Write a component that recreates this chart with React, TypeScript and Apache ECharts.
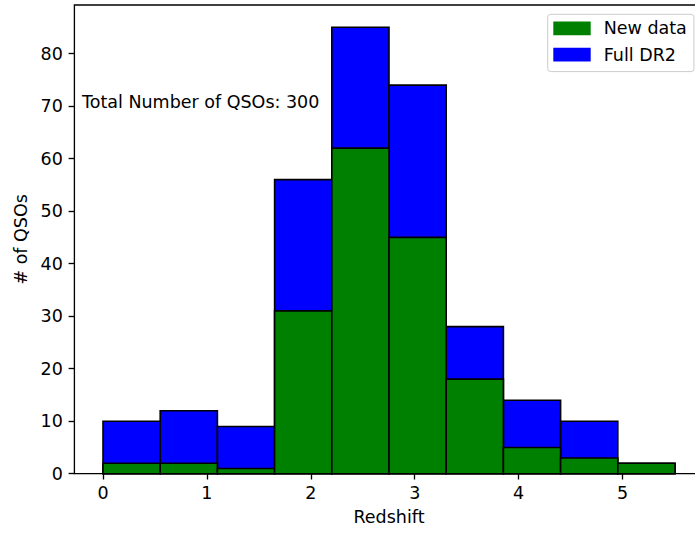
import React, { useEffect, useRef } from "react";
import * as echarts from "echarts";

const binEdges = [0, 0.5505, 1.101, 1.6515, 2.202, 2.7525, 3.303, 3.8535, 4.404, 4.9545, 5.505];
const fullDR2 = [10, 12, 9, 56, 85, 74, 28, 14, 10, 2];
const newData = [2, 2, 1, 31, 62, 45, 18, 5, 3, 2];
const xTicks = [0, 1, 2, 3, 4, 5];
const yTicks = [0, 10, 20, 30, 40, 50, 60, 70, 80];

const FONT = "DejaVu Sans";
const FS = 17.5;

function toBins(counts: number[]) {
  return counts.map((c, i) => [binEdges[i], binEdges[i + 1], c]);
}

const renderBar = (params: any, api: any) => {
  const x0 = api.value(0);
  const x1 = api.value(1);
  const y = api.value(2);
  const p0 = api.coord([x0, y]);
  const p1 = api.coord([x1, 0]);
  return {
    type: "rect",
    shape: { x: p0[0], y: p0[1], width: p1[0] - p0[0], height: p1[1] - p0[1] },
    style: { fill: api.visual("color"), stroke: "#000", lineWidth: 1.6 },
  };
};

export default function App() {
  const ref = useRef<HTMLDivElement>(null);
  useEffect(() => {
    if (!ref.current) return;
    const chart = echarts.init(ref.current, undefined, { renderer: "svg" });
    const total = fullDR2.reduce((a, b) => a + b, 0);
    chart.setOption({
      animation: false,
      textStyle: { fontFamily: FONT },
      grid: {
        left: 74.4,
        top: 5,
        width: 629.2,
        height: 468.7,
        show: true,
        borderColor: "#000",
        borderWidth: 1.33,
        backgroundColor: "transparent",
      },
      legend: {
        orient: "vertical",
        left: 547.7,
        top: 14.3,
        padding: [5.1, 7.1, 7.9, 5.6],
        itemWidth: 37.4,
        itemHeight: 13.7,
        itemGap: 8.3,
        backgroundColor: "rgba(255,255,255,0.8)",
        borderColor: "#cccccc",
        borderWidth: 1,
        borderRadius: 3,
        itemStyle: { borderWidth: 0 },
        textStyle: { fontFamily: FONT, fontSize: FS, color: "#000", padding: [0, 0, 0, 8] },
        data: [
          { name: "New data", icon: "rect" },
          { name: "Full DR2", icon: "rect" },
        ],
      },
      xAxis: {
        type: "value",
        min: -0.27525,
        max: 5.78025,
        name: "Redshift",
        nameLocation: "middle",
        nameGap: 34.5,
        nameTextStyle: { fontFamily: FONT, fontSize: FS, color: "#000" },
        splitLine: { show: false },
        axisLine: { show: false, onZero: false },
        axisTick: {
          show: true,
          inside: false,
          length: 5.8,
          lineStyle: { color: "#000", width: 1.33 },
          customValues: xTicks,
        },
        axisLabel: {
          fontFamily: FONT,
          fontSize: FS,
          color: "#000",
          margin: 10.5,
          customValues: xTicks,
        },
      },
      yAxis: {
        type: "value",
        min: 0,
        max: 89.25,
        name: "# of QSOs",
        nameLocation: "middle",
        nameGap: 37.5,
        nameTextStyle: { fontFamily: FONT, fontSize: FS, color: "#000" },
        splitLine: { show: false },
        axisLine: { show: false, onZero: false },
        axisTick: {
          show: true,
          inside: false,
          length: 5.8,
          lineStyle: { color: "#000", width: 1.33 },
          customValues: yTicks,
        },
        axisLabel: {
          fontFamily: FONT,
          fontSize: FS,
          color: "#000",
          margin: 11.6,
          customValues: yTicks,
        },
      },
      graphic: [
        {
          type: "text",
          x: 82,
          y: 101.5,
          style: {
            text: `Total Number of QSOs: ${total}`,
            fontFamily: FONT,
            fontSize: FS,
            fill: "#000",
            verticalAlign: "middle",
            align: "left",
          },
          z: 10,
        },
      ],
      series: [
        {
          type: "custom",
          name: "Full DR2",
          renderItem: renderBar,
          itemStyle: { color: "#0000ff" },
          encode: { x: [0, 1], y: 2 },
          data: toBins(fullDR2),
          z: 2,
        },
        {
          type: "custom",
          name: "New data",
          renderItem: renderBar,
          itemStyle: { color: "#008000" },
          encode: { x: [0, 1], y: 2 },
          data: toBins(newData),
          z: 3,
        },
      ],
    });
    return () => chart.dispose();
  }, []);
  return (
    <div
      style={{ position: "fixed", left: 0, top: 0, width: 695, height: 533, overflow: "hidden", background: "#fff" }}
    >
      <div ref={ref} style={{ width: 720, height: 533 }} />
    </div>
  );
}
